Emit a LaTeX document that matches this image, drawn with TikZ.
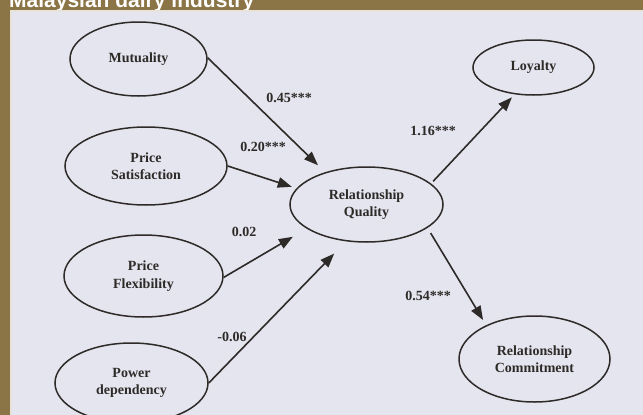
\documentclass[tikz,border=0pt]{standalone}
\usepackage{fontspec}
\setmainfont{Liberation Serif}
\setsansfont{Liberation Sans}
\definecolor{MDBrown}{HTML}{8B7446}
\definecolor{MDPanel}{HTML}{E4E5EF}
\definecolor{MDInk}{HTML}{2E2A28}
\usetikzlibrary{shapes.geometric,arrows.meta}
\tikzset{
  construct/.style={ellipse, draw=MDInk, line width=1.5pt, inner sep=0pt, align=center,
    text=MDInk, font=\bfseries\fontsize{14}{17.5}\selectfont},
  effect/.style={draw=MDInk, line width=1.6pt, -{Triangle[length=14pt,width=10.5pt]}},
  coef/.style={text=MDInk, font=\bfseries\fontsize{14}{16}\selectfont}
}

\begin{document}
\begin{tikzpicture}[x=1pt,y=-1pt]
    \useasboundingbox (0,0) rectangle (643,415);
    \fill[MDBrown] (0,0) rectangle (643,415);
    \node[anchor=base west, inner sep=0pt, text=white, font=\sffamily\bfseries\fontsize{21}{24}\selectfont] (title) at (9,7) {Malaysian dairy industry};
    \filldraw[fill=MDPanel, draw=white!80!MDBrown, line width=1.2pt] (11,11) rectangle (650,420);

    \node[construct, minimum width=137pt, minimum height=74pt] (mut) at (138.5,59) {Mutuality};
    \node[construct, minimum width=162pt, minimum height=78pt] (ps) at (146,166) {Price\\Satisfaction};
    \node[construct, minimum width=159pt, minimum height=82pt] (pf) at (143.5,276) {Price\\Flexibility};
    \node[construct, minimum width=153pt, minimum height=80pt] (pd) at (131.5,383) {Power\\dependency};
    \node[construct, minimum width=153pt, minimum height=75pt] (rq) at (366.5,204.5) {Relationship\\Quality};
    \node[construct, minimum width=121pt, minimum height=55pt] (loy) at (533.5,67.5) {Loyalty};
    \node[construct, minimum width=151pt, minimum height=86pt] (rc) at (534.5,359) {Relationship\\Commitment};

    \draw[effect, shorten >=10pt] (mut.1) -- (rq.142);
    \draw[effect, shorten >=5pt] (ps.east) -- (rq.167);
    \draw[effect, shorten >=16pt] (pf.-1) -- (rq.202);
    \draw[effect, shorten >=17pt] (pd.east) -- (rq.241);
    \draw[effect, shorten <=3pt, shorten >=4pt] (rq.18) -- (loy.235);
    \draw[effect, shorten <=6pt, shorten >=6pt] (rq.-21) -- (rc.145);

    \node[coef] (b1) at (289,98) {0.45***};
    \node[coef] (b2) at (263,147) {0.20***};
    \node[coef] (b3) at (244,232) {0.02};
    \node[coef] (b4) at (232,337) {-0.06};
    \node[coef] (b5) at (433,131) {1.16***};
    \node[coef] (b6) at (428,296) {0.54***};
  \end{tikzpicture}
\end{document}
